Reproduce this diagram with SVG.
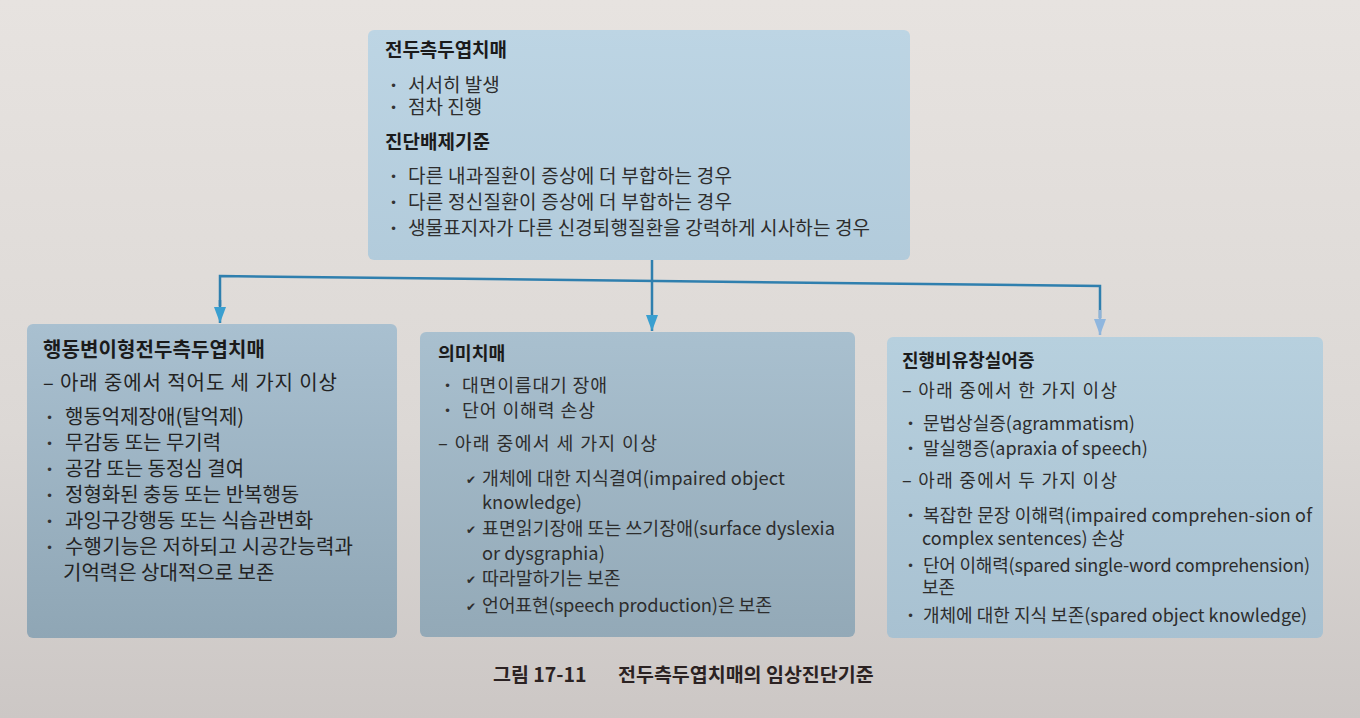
<svg xmlns="http://www.w3.org/2000/svg" width="1360" height="718" viewBox="0 0 1360 718">
<style>
.t{font-family:'Noto Sans CJK KR','Noto Sans',sans-serif;fill:#2d2d2d}
.s1{font-size:19px}
.s2{font-size:20px;fill:#232323}
.s3{font-size:18.3px}
.s4{font-size:18px}
.h{font-weight:bold;fill:#1b1b1b}
.b{font-family:'DejaVu Sans',sans-serif;font-size:12px;fill:#333}
.c{font-family:'DejaVu Sans',sans-serif;font-size:12px;fill:#2d2d2d}
.cap{font-family:'Noto Sans CJK KR',sans-serif;font-size:19.5px;font-weight:bold;fill:#2b2222}
.conn{fill:none;stroke:#2f7fae;stroke-width:2.5}
</style>
<defs>
<linearGradient id="bg" x1="0" y1="0" x2="0" y2="1">
<stop offset="0" stop-color="#e7e3e0"/><stop offset="0.6" stop-color="#dcd8d5"/><stop offset="1" stop-color="#ccc7c5"/>
</linearGradient>
<linearGradient id="gTop" x1="0" y1="0" x2="0" y2="1"><stop offset="0" stop-color="#bdd5e4"/><stop offset="1" stop-color="#b2cbdb"/></linearGradient>
<linearGradient id="gLeft" x1="0" y1="0" x2="0" y2="1"><stop offset="0" stop-color="#a9c0d0"/><stop offset="1" stop-color="#8fa6b5"/></linearGradient>
<linearGradient id="gMid" x1="0" y1="0" x2="0" y2="1"><stop offset="0" stop-color="#a9c0cf"/><stop offset="1" stop-color="#93a9b7"/></linearGradient>
<linearGradient id="gRight" x1="0" y1="0" x2="0" y2="1"><stop offset="0" stop-color="#b7d0de"/><stop offset="1" stop-color="#a8c1d1"/></linearGradient>
<marker id="arr" viewBox="0 0 16 12" refX="16" refY="6" markerWidth="16" markerHeight="12" markerUnits="userSpaceOnUse" orient="auto">
<path d="M0,0 L16,6 L0,12 Z" fill="#3a9fd0"/>
</marker>
<marker id="arrL" viewBox="0 0 16 12" refX="16" refY="6" markerWidth="16" markerHeight="12" markerUnits="userSpaceOnUse" orient="auto">
<path d="M0,0 L16,6 L0,12 Z" fill="#8fb6de"/>
</marker>
</defs>
<rect x="0" y="0" width="1360" height="718" fill="url(#bg)"/>

<g id="connectors">
<line class="conn" x1="652" y1="260" x2="652" y2="276"/>
<polyline class="conn" points="220,306 220,276 1100,286 1100,318"/>
<line class="conn" x1="220" y1="300" x2="220" y2="323" marker-end="url(#arr)"/>
<line class="conn" x1="652" y1="276" x2="652" y2="331" marker-end="url(#arr)"/>
<line class="conn" x1="1100" y1="310" x2="1100" y2="335" marker-end="url(#arrL)" style="stroke:#8fb3d8"/>
</g>

<g id="node-ftd">
<rect x="368" y="30" width="542" height="230" rx="6" fill="url(#gTop)"/>
<text class="t s1 h" x="385" y="57" textLength="122" lengthAdjust="spacing">전두측두엽치매</text>
<text class="b" x="390" y="90">•</text><text class="t s1" x="408" y="92">서서히 발생</text>
<text class="b" x="390" y="112">•</text><text class="t s1" x="408" y="114">점차 진행</text>
<text class="t s1 h" x="385" y="149">진단배제기준</text>
<text class="b" x="390" y="181">•</text><text class="t s1" x="408" y="183" textLength="324" lengthAdjust="spacing">다른 내과질환이 증상에 더 부합하는 경우</text>
<text class="b" x="390" y="207">•</text><text class="t s1" x="408" y="209" textLength="324" lengthAdjust="spacing">다른 정신질환이 증상에 더 부합하는 경우</text>
<text class="b" x="390" y="233">•</text><text class="t s1" x="408" y="235" textLength="462" lengthAdjust="spacing">생물표지자가 다른 신경퇴행질환을 강력하게 시사하는 경우</text>
</g>

<g id="node-bvftd">
<rect x="27" y="324" width="370" height="314" rx="6" fill="url(#gLeft)"/>
<text class="t s2 h" x="43" y="357" textLength="222" lengthAdjust="spacing">행동변이형전두측두엽치매</text>
<text class="t s2" x="43" y="390" textLength="294" lengthAdjust="spacing">– 아래 중에서 적어도 세 가지 이상</text>
<text class="b" x="46" y="422">•</text><text class="t s2" x="65" y="424">행동억제장애(탈억제)</text>
<text class="b" x="46" y="448">•</text><text class="t s2" x="65" y="450">무감동 또는 무기력</text>
<text class="b" x="46" y="474">•</text><text class="t s2" x="65" y="476">공감 또는 동정심 결여</text>
<text class="b" x="46" y="500">•</text><text class="t s2" x="65" y="502">정형화된 충동 또는 반복행동</text>
<text class="b" x="46" y="526">•</text><text class="t s2" x="65" y="528">과잉구강행동 또는 식습관변화</text>
<text class="b" x="46" y="552">•</text><text class="t s2" x="65" y="554" textLength="288" lengthAdjust="spacing">수행기능은 저하되고 시공간능력과</text>
<text class="t s2" x="63" y="580">기억력은 상대적으로 보존</text>
</g>

<g id="node-svppa">
<rect x="420" y="332" width="435" height="305" rx="6" fill="url(#gMid)"/>
<text class="t s3 h" x="438" y="360">의미치매</text>
<text class="b" x="444" y="390">•</text><text class="t s3" x="462" y="392" textLength="145" lengthAdjust="spacing">대면이름대기 장애</text>
<text class="b" x="444" y="415">•</text><text class="t s3" x="462" y="417" textLength="133" lengthAdjust="spacing">단어 이해력 손상</text>
<text class="t s3" x="438" y="450" textLength="219" lengthAdjust="spacing">– 아래 중에서 세 가지 이상</text>
<text class="c" x="466" y="484">✔</text><text class="t s3" x="482" y="485" textLength="303" lengthAdjust="spacing">개체에 대한 지식결여(impaired object</text>
<text class="t s3" x="482" y="509">knowledge)</text>
<text class="c" x="466" y="534">✔</text><text class="t s3" x="482" y="535" textLength="353" lengthAdjust="spacing">표면읽기장애 또는 쓰기장애(surface dyslexia</text>
<text class="t s3" x="482" y="560">or dysgraphia)</text>
<text class="c" x="466" y="584">✔</text><text class="t s3" x="482" y="585">따라말하기는 보존</text>
<text class="c" x="466" y="611">✔</text><text class="t s3" x="482" y="612" textLength="290" lengthAdjust="spacing">언어표현(speech production)은 보존</text>
</g>

<g id="node-nfvppa">
<rect x="887" y="337" width="436" height="301" rx="6" fill="url(#gRight)"/>
<text class="t s4 h" x="902" y="367">진행비유창실어증</text>
<text class="t s4" x="902" y="397" textLength="215" lengthAdjust="spacing">– 아래 중에서 한 가지 이상</text>
<text class="b" x="907" y="428">•</text><text class="t s4" x="923" y="430">문법상실증(agrammatism)</text>
<text class="b" x="907" y="453">•</text><text class="t s4" x="923" y="455">말실행증(apraxia of speech)</text>
<text class="t s4" x="902" y="487" textLength="215" lengthAdjust="spacing">– 아래 중에서 두 가지 이상</text>
<text class="b" x="907" y="520">•</text><text class="t s4" x="923" y="522" textLength="389" lengthAdjust="spacing">복잡한 문장 이해력(impaired comprehen-sion of</text>
<text class="t s4" x="922" y="545">complex sentences) 손상</text>
<text class="b" x="907" y="570">•</text><text class="t s4" x="923" y="572" textLength="387" lengthAdjust="spacing">단어 이해력(spared single-word comprehension)</text>
<text class="t s4" x="922" y="594">보존</text>
<text class="b" x="907" y="620">•</text><text class="t s4" x="923" y="622" textLength="384" lengthAdjust="spacing">개체에 대한 지식 보존(spared object knowledge)</text>
</g>

<g id="caption">
<text class="cap" x="493" y="682">그림 17-11</text>
<text class="cap" x="618" y="682">전두측두엽치매의 임상진단기준</text>
</g>
</svg>
